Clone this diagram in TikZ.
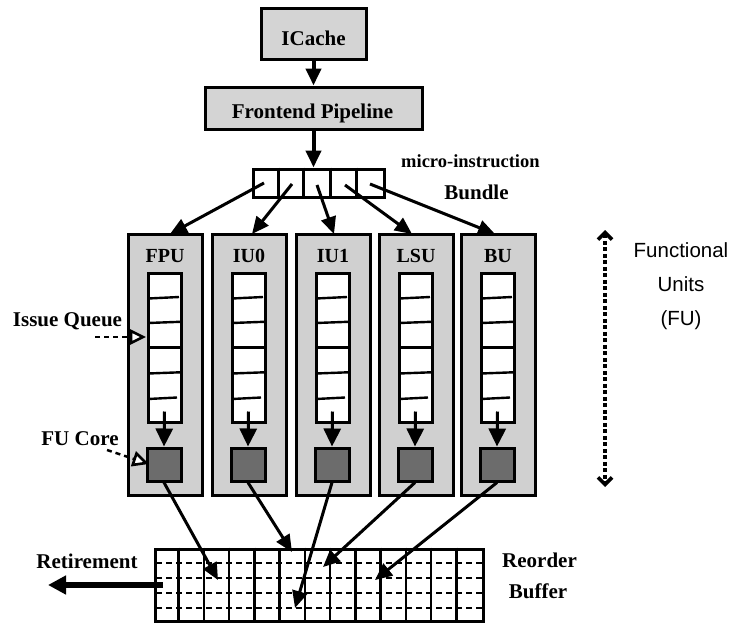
\documentclass[tikz,border=0pt]{standalone}
\usepackage{fontspec}
\setmainfont{Liberation Serif}
\newfontfamily\arialf{Liberation Sans}
\usetikzlibrary{arrows.meta,calc}
\definecolor{topgray}{RGB}{212,212,212}
\definecolor{fugray}{RGB}{208,208,208}
\definecolor{coregray}{RGB}{108,108,108}
\begin{document}
\begin{tikzpicture}[x=1pt,y=-1pt,
  topbox/.style={draw,line width=3pt,fill=topgray,inner sep=0pt},
  fubox/.style={draw,line width=3pt,fill=fugray,inner sep=0pt,minimum width=74pt,minimum height=261pt},
  queue/.style={draw,line width=3pt,fill=white,inner sep=0pt,minimum width=33pt,minimum height=149pt},
  core/.style={draw,line width=3pt,fill=coregray,inner sep=0pt,minimum width=34pt,minimum height=33pt},
  divline/.style={line width=2.4pt},
  lbl/.style={font=\bfseries\fontsize{21}{25}\selectfont,anchor=base,inner sep=0pt},
  arr/.style={line width=3pt,-{Triangle[length=17pt,width=15pt]}},
  bigarr/.style={line width=4pt,-{Triangle[length=17pt,width=15pt]}},
  corearr/.style={line width=3pt,-{Triangle[length=18pt,width=17pt]}},
  pointer/.style={line width=2.4pt,dash pattern=on 5pt off 4pt},
  opentri/.style={draw,line width=2.6pt,fill=white,line join=miter},
  robdash/.style={line width=2.8pt,dash pattern=on 6pt off 4pt},
]
\useasboundingbox (0,0) rectangle (730,624);

% top boxes
\node[topbox,minimum width=105pt,minimum height=51pt] (icache) at (313.5,33.5) {};
\node[lbl] (icachel) at (313.5,45) {ICache};
\node[topbox,minimum width=217pt,minimum height=42pt] (frontend) at (313.5,108) {};
\node[lbl] (frontendl) at (312.5,118) {Frontend Pipeline};
\draw[bigarr] (icache.south) -- (frontend.north);

% bundle
\node[draw,line width=3pt,fill=white,inner sep=0pt,minimum width=131pt,minimum height=28pt] (bundle) at (318.5,183) {};
\foreach \xx in {280,305,332,358}
  \draw[line width=2.6pt] ($(bundle.north west)+(\xx-253,0)$) -- ($(bundle.south west)+(\xx-253,0)$);
\draw[bigarr] (frontend.south) -- (frontend.south |- bundle.north);
\node[lbl,font=\bfseries\fontsize{18.5}{22}\selectfont,anchor=base west] (microl) at (401,167) {micro-instruction};
\node[lbl] (bundlel) at (476.5,199) {Bundle};

% functional units
\foreach \i/\l/\n in {1/128/FPU,2/212/IU0,3/296/IU1,4/379/LSU,5/461/BU} {
  \node[fubox] (fu\i) at (\l+37,364.5) {};
  \node[lbl,font=\bfseries\fontsize{20}{24}\selectfont] (fl\i) at (\l+37,262) {\n};
  \node[queue] (q\i) at (\l+36.5,347.5) {};
  \draw[divline] (\l+20,298.5) -- (\l+51,297);
  \draw[divline] (\l+20,323) -- (\l+52,321.8);
  \draw[divline] (\l+20,347.5) -- (\l+53,347.5);
  \draw[divline] (\l+20,373.5) -- (\l+52,372.3);
  \draw[divline] (\l+20,399) -- (\l+49,397.5);
  \node[core] (c\i) at (\l+36,464.5) {};
  \draw[corearr] ($(q\i.south)+(0,-12)$) -- (c\i.north);
}

% bundle to FU arrows
\coordinate (b1) at (264,183);
\coordinate (b2) at (292,184);
\coordinate (b3) at (317,185);
\coordinate (b4) at (345,185);
\coordinate (b5) at (370,184);
\coordinate (t1) at (170,234);
\coordinate (t2) at (252,234);
\coordinate (t3) at (334,234);
\coordinate (t4) at (412,234);
\coordinate (t5) at (495,234);
\foreach \i in {1,...,5} \draw[arr] (b\i) -- (t\i);

% reorder buffer
\node[draw,line width=3pt,fill=white,inner sep=0pt,minimum width=328pt,minimum height=72pt] (rob) at (319,585) {};
\foreach \k in {1,...,12}
  \draw[line width=2.6pt] ($(rob.north west)+(\k*25.23,0)$) -- ($(rob.south west)+(\k*25.23,0)$);
\foreach \yy in {563,578,593,608}
  \draw[robdash] (156,\yy) -- (484,\yy);
\node[lbl] (reorderl) at (539.5,567) {Reorder};
\node[lbl] (bufferl) at (538,598) {Buffer};

% FU to ROB arrows
\coordinate (r1) at (218,580);
\coordinate (r2) at (292,552);
\coordinate (r3) at (295,608);
\coordinate (r4) at (323,567);
\coordinate (r5) at (375,580);
\foreach \i in {1,...,5} \draw[arr] (c\i.south) -- (r\i);

% retirement
\coordinate (rets) at (163,585);
\coordinate (rete) at (48,585);
\draw[line width=5.5pt,-{Triangle[length=18pt,width=18pt]}] (rets) -- (rete);
\node[lbl] (retl) at (87,568) {Retirement};

% pointers
\node[lbl] (iql) at (67.5,326) {Issue Queue};
\coordinate (iqs) at (95,337);
\coordinate (iqe) at (143,337);
\coordinate (iqb) at ($(iqe)!12pt!(iqs)$);
\draw[pointer] (iqs) -- (iqb);
\draw[opentri] (iqe) -- ($(iqb)!6pt!90:(iqe)$) -- ($(iqb)!6pt!-90:(iqe)$) -- cycle;
\node[lbl] (fcl) at (80,445) {FU Core};
\coordinate (fcs) at (107,450);
\coordinate (fce) at (146,463);
\coordinate (fcb) at ($(fce)!12pt!(fcs)$);
\draw[pointer] (fcs) -- (fcb);
\draw[opentri] (fce) -- ($(fcb)!6pt!90:(fce)$) -- ($(fcb)!6pt!-90:(fce)$) -- cycle;

% functional units range
\coordinate (fa) at (605,230);
\coordinate (fb) at (605,487);
\draw[line width=3.6pt,dash pattern=on 4pt off 2.5pt,{Straight Barb[length=7pt,width=14pt]}-{Straight Barb[length=7pt,width=14pt]}] (fa) -- (fb);
\node[font=\arialf\fontsize{20.5}{34}\selectfont,align=center,anchor=base,inner sep=0pt] (ful) at (681,325) {Functional\\Units\\(FU)};
\end{tikzpicture}
\end{document}
